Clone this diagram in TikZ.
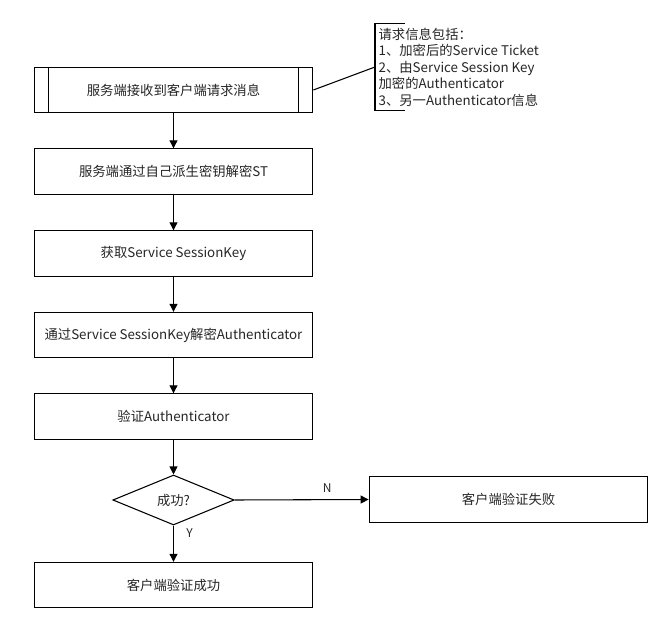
\documentclass[tikz,border=0pt]{standalone}
\usepackage{fontspec}
\setmainfont{Noto Sans CJK SC}
\usetikzlibrary{shapes.geometric,arrows.meta}
\begin{document}
\begin{tikzpicture}[x=0.75pt, y=-0.75pt,
    passo/.style={draw, line width=0.8pt, minimum width=209pt, minimum height=34pt, inner sep=0pt, text=black!85, font=\fontsize{10}{12}\selectfont},
    scelta/.style={draw, diamond, line width=0.8pt, minimum width=91pt, minimum height=37.5pt, inner sep=0pt, aspect=2.4, text=black!85, font=\fontsize{10}{12}\selectfont},
    freccia/.style={-{Triangle[length=6pt,width=6pt]}, line width=0.8pt},
    etichetta/.style={text=black!85, font=\fontsize{9}{11}\selectfont}]
        \useasboundingbox (0,0) rectangle (665,642);

        % Passi del server
        \node[passo] (ricevi) at (173.5,90) {服务端接收到客户端请求消息};
        \draw[line width=0.8pt] ([xshift=11pt]ricevi.north west) -- ([xshift=11pt]ricevi.south west);
        \draw[line width=0.8pt] ([xshift=-11pt]ricevi.north east) -- ([xshift=-11pt]ricevi.south east);
        \node[passo] (decifra) at (173.5,171.5) {服务端通过自己派生密钥解密ST};
        \node[passo] (chiave) at (173.5,253.5) {获取Service SessionKey};
        \node[passo] (auth) at (173.5,335) {通过Service SessionKey解密Authenticator};
        \node[passo] (verifica) at (173.5,416.5) {验证Authenticator};
        \node[scelta] (esito) at (173.5,500) {成功?};
        \node[passo] (fallito) at (508.5,499.5) {客户端验证失败};
        \node[passo] (riuscito) at (173.5,585) {客户端验证成功};

        % Nota sulla richiesta
        \node[anchor=west, align=left, inner xsep=2.5pt, inner ysep=3pt, text=black!85, font=\fontsize{10}{12.4}\selectfont] (nota) at (375,67)
            {请求信息包括：\\1、加密后的Service Ticket\\2、由Service Session Key\\加密的Authenticator\\3、另一Authenticator信息};
        \draw[line width=0.8pt] ([xshift=22.5pt]nota.north west) -- (nota.north west) -- (nota.south west) -- ++(30,0);
        \draw[line width=0.8pt] (ricevi.east) -- (nota.west);

        % Frecce
        \draw[freccia] (ricevi) -- (decifra);
        \draw[freccia] (decifra) -- (chiave);
        \draw[freccia] (chiave) -- (auth);
        \draw[freccia] (auth) -- (verifica);
        \draw[freccia] (verifica) -- (esito);
        \draw[freccia] (esito.east) -- node[etichetta, above=2pt, pos=0.69] {N} (fallito.west);
        \draw[freccia] (esito.south) -- node[etichetta, right=6pt, pos=0.2] {Y} (riuscito.north);
    \end{tikzpicture}
\end{document}
